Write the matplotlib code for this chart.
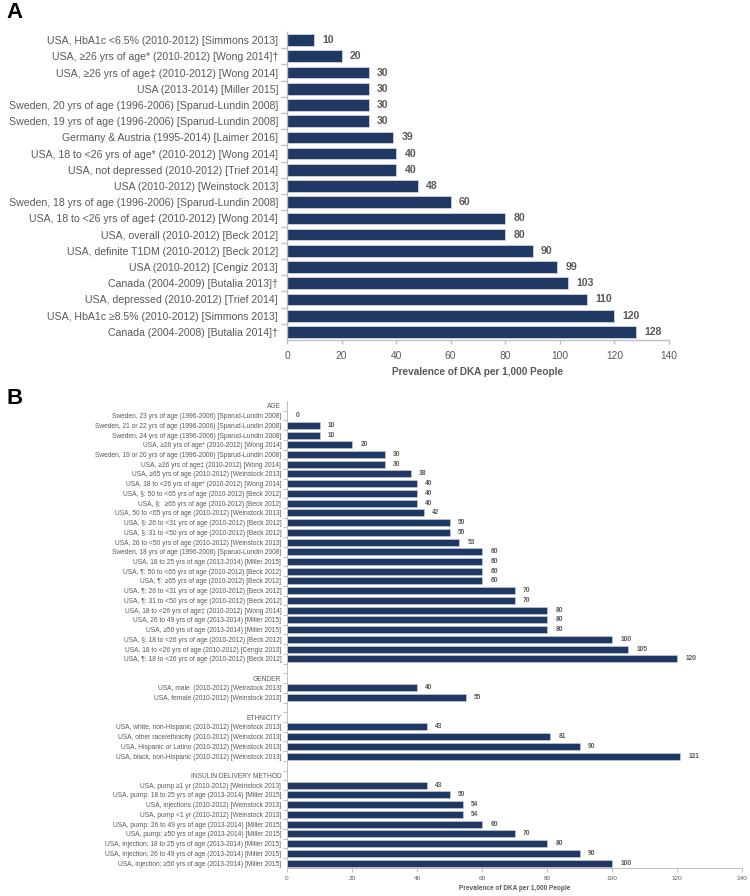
import matplotlib
matplotlib.use('Agg')
import matplotlib.pyplot as plt
import numpy as np

plt.rcParams['font.family'] = ['Liberation Sans', 'DejaVu Sans']

# ---- panel A data ----
labels_a = [
    "USA, HbA1c <6.5% (2010-2012) [Simmons 2013]",
    "USA, ≥26 yrs of age* (2010-2012) [Wong 2014]†",
    "USA, ≥26 yrs of age‡ (2010-2012) [Wong 2014]",
    "USA (2013-2014) [Miller 2015]",
    "Sweden, 20 yrs of age (1996-2006) [Sparud-Lundin 2008]",
    "Sweden, 19 yrs of age (1996-2006) [Sparud-Lundin 2008]",
    "Germany & Austria (1995-2014) [Laimer 2016]",
    "USA, 18 to <26 yrs of age* (2010-2012) [Wong 2014]",
    "USA, not depressed (2010-2012) [Trief 2014]",
    "USA (2010-2012) [Weinstock 2013]",
    "Sweden, 18 yrs of age (1996-2006) [Sparud-Lundin 2008]",
    "USA, 18 to <26 yrs of age‡ (2010-2012) [Wong 2014]",
    "USA, overall (2010-2012) [Beck 2012]",
    "USA, definite T1DM (2010-2012) [Beck 2012]",
    "USA (2010-2012) [Cengiz 2013]",
    "Canada (2004-2009) [Butalia 2013]†",
    "USA, depressed (2010-2012) [Trief 2014]",
    "USA, HbA1c ≥8.5% (2010-2012) [Simmons 2013]",
    "Canada (2004-2008) [Butalia 2014]†",
]
values_a = [10, 20, 30, 30, 30, 30, 39, 40, 40, 48, 60, 80, 80, 90, 99, 103, 110, 120, 128]

# ---- panel B data ----
groups_b = ["AGE", "GENDER", "ETHNICITY", "INSULIN DELIVERY METHOD"]

age_labels = [
    "Sweden, 23 yrs of age (1996-2006) [Sparud-Lundin 2008]",
    "Sweden, 21 or 22 yrs of age (1996-2006) [Sparud-Lundin 2008]",
    "Sweden, 24 yrs of age (1996-2006) [Sparud-Lundin 2008]",
    "USA, ≥26 yrs of age* (2010-2012) [Wong 2014]",
    "Sweden, 19 or 20 yrs of age (1996-2006) [Sparud-Lundin 2008]",
    "USA, ≥26 yrs of age‡ (2010-2012) [Wong 2014]",
    "USA, ≥65 yrs of age (2010-2012) [Weinstock 2013]",
    "USA, 18 to <26 yrs of age* (2010-2012) [Wong 2014]",
    "USA, §: 50 to <65 yrs of age (2010-2012) [Beck 2012]",
    "USA, §:  ≥65 yrs of age (2010-2012) [Beck 2012]",
    "USA, 50 to <65 yrs of age (2010-2012) [Weinstock 2013]",
    "USA, §: 26 to <31 yrs of age (2010-2012) [Beck 2012]",
    "USA, §: 31 to <50 yrs of age (2010-2012) [Beck 2012]",
    "USA, 26 to <50 yrs of age (2010-2012) [Weinstock 2013]",
    "Sweden, 18 yrs of age (1996-2006) [Sparud-Lundin 2008]",
    "USA, 18 to 25 yrs of age (2013-2014) [Miller 2015]",
    "USA, ¶: 50 to <65 yrs of age (2010-2012) [Beck 2012]",
    "USA, ¶: ≥65 yrs of age (2010-2012) [Beck 2012]",
    "USA, ¶: 26 to <31 yrs of age (2010-2012) [Beck 2012]",
    "USA, ¶: 31 to <50 yrs of age (2010-2012) [Beck 2012]",
    "USA, 18 to <26 yrs of age‡ (2010-2012) [Wong 2014]",
    "USA, 26 to 49 yrs of age (2013-2014) [Miller 2015]",
    "USA, ≥50 yrs of age (2013-2014) [Miller 2015]",
    "USA, §: 18 to <26 yrs of age (2010-2012) [Beck 2012]",
    "USA, 18 to <26 yrs of age (2010-2012) [Cengiz 2013]",
    "USA, ¶: 18 to <26 yrs of age (2010-2012) [Beck 2012]",
]
age_values = [0, 10, 10, 20, 30, 30, 38, 40, 40, 40, 42, 50, 50, 53, 60, 60, 60, 60, 70, 70, 80, 80, 80, 100, 105, 120]

gender_labels = [
    "USA, male  (2010-2012) [Weinstock 2013]",
    "USA, female (2010-2012) [Weinstock 2013]",
]
gender_values = [40, 55]

eth_labels = [
    "USA, white, non-Hispanic (2010-2012) [Weinstock 2013]",
    "USA, other race/ethnicity (2010-2012) [Weinstock 2013]",
    "USA, Hispanic or Latino (2010-2012) [Weinstock 2013]",
    "USA, black, non-Hispanic (2010-2012) [Weinstock 2013]",
]
eth_values = [43, 81, 90, 121]

insulin_labels = [
    "USA, pump ≥1 yr (2010-2012) [Weinstock 2013]",
    "USA, pump: 18 to 25 yrs of age (2013-2014) [Miller 2015]",
    "USA, injections (2010-2012) [Weinstock 2013]",
    "USA, pump <1 yr (2010-2012) [Weinstock 2013]",
    "USA, pump: 26 to 49 yrs of age (2013-2014) [Miller 2015]",
    "USA, pump; ≥50 yrs of age (2013-2014) [Miller 2015]",
    "USA, injection; 18 to 25 yrs of age (2013-2014) [Miller 2015]",
    "USA, injection; 26 to 49 yrs of age (2013-2014) [Miller 2015]",
    "USA, injection; ≥50 yrs of age (2013-2014) [Miller 2015]",
]
insulin_values = [43, 50, 54, 54, 60, 70, 80, 90, 100]

BAR = '#1f3864'
TXT = '#595959'
SPINE = '#bfbfbf'
xlabel = "Prevalence of DKA per 1,000 People"

fig = plt.figure(figsize=(7.5, 8.96), dpi=100)


def style_axis(ax, n, fs, lw):
    ax.set_xlim(0, 140)
    ax.set_ylim(n - 0.5, -0.5)
    ax.set_xticks(np.arange(0, 141, 20))
    ax.set_yticks(np.arange(n - 1) + 0.5, minor=True)
    ax.tick_params(axis='y', which='major', length=0, pad=fs * 0.85, labelsize=fs, labelcolor=TXT)
    ax.tick_params(axis='y', which='minor', length=4 if fs > 6 else 3, color=SPINE, width=lw)
    ax.tick_params(axis='x', length=3, color=SPINE, width=lw, labelcolor=TXT)
    for s in ['top', 'right']:
        ax.spines[s].set_visible(False)
    for s in ['left', 'bottom']:
        ax.spines[s].set_color(SPINE)
        ax.spines[s].set_linewidth(lw)


# ---- panel A ----
axA = fig.add_axes([0.3827, 0.6205, 0.5093, 0.3438])
ya = np.arange(len(values_a))
axA.barh(ya, values_a, height=0.72, color=BAR, edgecolor='#d0d4dc', linewidth=0.6)
style_axis(axA, len(values_a), 7.6, 1.0)
axA.set_yticks(ya)
axA.set_yticklabels(labels_a)
axA.tick_params(axis='x', labelsize=7.4, pad=5)
for y, v in zip(ya, values_a):
    axA.annotate(str(v), (v, y), xytext=(6, 0), textcoords='offset points',
                 va='center', ha='left', fontsize=7.6, fontweight='bold', color=TXT)
axA.set_xlabel(xlabel, fontsize=7.2, fontweight='bold', color=TXT, labelpad=4)
fig.text(0.008, 0.986, "A", fontsize=16, fontweight='bold', va='center', ha='left')

# ---- panel B ----
group_labels = [age_labels, gender_labels, eth_labels, insulin_labels]
group_values = [age_values, gender_values, eth_values, insulin_values]
rows_b = []
vals_b = []
for gi, (g, labs, vals) in enumerate(zip(groups_b, group_labels, group_values)):
    if gi > 0:
        rows_b.append("")
        vals_b.append(None)
    rows_b.append(g)
    vals_b.append(None)
    rows_b.extend(labs)
    vals_b.extend(vals)

axB = fig.add_axes([0.3827, 0.0313, 0.6067, 0.5212])
yb = np.arange(len(rows_b))
bar_y = [y for y, v in zip(yb, vals_b) if v is not None]
bar_v = [v for v in vals_b if v is not None]
axB.barh(bar_y, bar_v, height=0.72, color=BAR, edgecolor='#d0d4dc', linewidth=0.4)
style_axis(axB, len(rows_b), 4.8, 0.7)
axB.set_yticks(yb)
axB.set_yticklabels(rows_b)
axB.tick_params(axis='x', labelsize=4.6, pad=3)
for y, v in zip(bar_y, bar_v):
    axB.annotate(str(v), (v, y), xytext=(6, 0), textcoords='offset points',
                 va='center', ha='left', fontsize=4.8, fontweight='bold', color=TXT)
axB.set_xlabel(xlabel, fontsize=4.7, fontweight='bold', color=TXT, labelpad=3)
fig.text(0.008, 0.555, "B", fontsize=16, fontweight='bold', va='center', ha='left')

fig.savefig('out.png', dpi=100)
